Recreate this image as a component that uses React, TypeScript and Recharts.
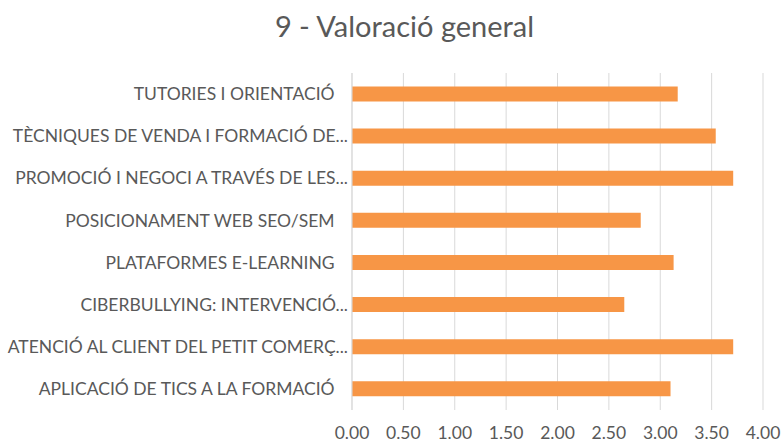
import React from 'react';
import { BarChart, Bar, XAxis, YAxis, CartesianGrid } from 'recharts';

const categories = [
  'TUTORIES I ORIENTACIÓ   ',
  'TÈCNIQUES DE VENDA I FORMACIÓ DE...',
  'PROMOCIÓ I NEGOCI A TRAVÉS DE LES...',
  'POSICIONAMENT WEB SEO/SEM   ',
  'PLATAFORMES E-LEARNING   ',
  'CIBERBULLYING: INTERVENCIÓ...',
  'ATENCIÓ AL CLIENT DEL PETIT COMERÇ...',
  'APLICACIÓ DE TICS A LA FORMACIÓ   ',
];
const values = [3.17, 3.54, 3.71, 2.81, 3.13, 2.65, 3.71, 3.10];
const xTicks = [0, 0.5, 1, 1.5, 2, 2.5, 3, 3.5, 4];
const title = '9 - Valoració general';

const data = categories.map((name, i) => ({ name, value: values[i] }));

const FONT = 'Lato, "Open Sans", sans-serif';
const TEXT = '#595959';

const YTick = (props: any) => {
  const { x, y, payload } = props;
  return (
    <text x={x} y={y} dy="0.35em" textAnchor="end" fill={TEXT} fontSize={17.5} fontFamily={FONT} style={{ whiteSpace: 'pre' }} xmlSpace="preserve">
      {payload.value}
    </text>
  );
};

export default function App() {
  return (
    <div style={{ position: 'fixed', left: 0, top: 0, width: 781, height: 443, background: '#fff' }}>
      <div style={{ position: 'absolute', left: 14, top: 7, width: 781, textAlign: 'center', fontFamily: FONT, fontSize: 29, color: TEXT, lineHeight: '38px' }}>
        {title}
      </div>
      <BarChart
        width={781}
        height={443}
        data={data}
        layout="vertical"
        margin={{ top: 73, right: 18, bottom: 0, left: 0 }}
        barCategoryGap="32%"
      >
        <CartesianGrid horizontal={false} vertical={true} stroke="#d9d9d9" strokeWidth={1} />
        <XAxis
          type="number"
          domain={[0, 4]}
          ticks={xTicks}
          tickFormatter={(v: number) => v.toFixed(2)}
          axisLine={false}
          tickLine={false}
          tickSize={0}
          tickMargin={17}
          height={33}
          interval={0}
          tick={{ fill: TEXT, fontSize: 17.5, fontFamily: FONT }}
        />
        <YAxis
          type="category"
          dataKey="name"
          width={352}
          axisLine={{ stroke: '#d9d9d9' }}
          tickLine={false}
          tickSize={0}
          tickMargin={4}
          interval={0}
          tick={<YTick />}
        />
        <Bar dataKey="value" fill="#F79646" isAnimationActive={false} />
      </BarChart>
    </div>
  );
}
